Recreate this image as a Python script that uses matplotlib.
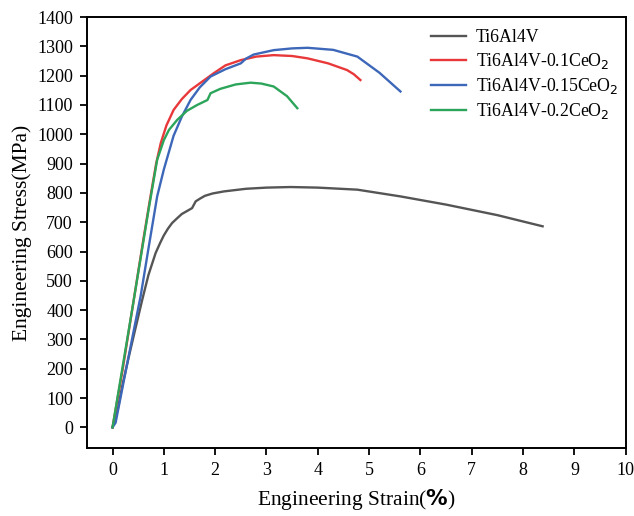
import matplotlib
matplotlib.use("Agg")
import matplotlib.pyplot as plt

plt.rcParams['font.family'] = ['Liberation Serif', 'DejaVu Serif']
plt.rcParams['mathtext.fontset'] = 'dejavusans'

# Data
strain_ti = [0, 0.1, 0.2, 0.32, 0.45, 0.58, 0.7, 0.84, 0.93, 1.0, 1.08, 1.16, 1.25, 1.35, 1.45, 1.55, 1.62, 1.7, 1.8, 1.95, 2.17, 2.6, 3.0, 3.47, 4.0, 4.77, 5.61, 6.5, 7.5, 8.38]
stress_ti = [0, 60, 150, 243, 340, 436, 520, 595, 630, 655, 678, 697, 712, 728, 738, 748, 771, 780, 790, 798, 805, 814, 818, 820, 818, 811, 788, 760, 724, 686]

strain_01 = [0, 0.2, 0.4, 0.6, 0.74, 0.85, 0.94, 1.05, 1.19, 1.35, 1.52, 1.75, 1.97, 2.2, 2.5, 2.8, 3.14, 3.5, 3.8, 4.2, 4.57, 4.7, 4.83]
stress_01 = [0, 200, 420, 640, 788, 900, 970, 1030, 1083, 1120, 1151, 1180, 1208, 1235, 1253, 1265, 1270, 1267, 1259, 1242, 1219, 1205, 1185]

strain_015 = [0, 0.06, 0.3, 0.55, 0.7, 0.87, 1.0, 1.19, 1.35, 1.52, 1.7, 1.91, 2.2, 2.5, 2.6, 2.75, 3.14, 3.5, 3.8, 4.3, 4.77, 5.2, 5.61]
stress_015 = [0, 16, 230, 450, 610, 788, 880, 995, 1060, 1117, 1160, 1197, 1222, 1242, 1258, 1272, 1287, 1293, 1295, 1288, 1265, 1210, 1146]

strain_02 = [0, 0.2, 0.4, 0.55, 0.7, 0.87, 1.0, 1.1, 1.26, 1.45, 1.65, 1.85, 1.91, 2.1, 2.4, 2.69, 2.9, 3.14, 3.4, 3.6]
stress_02 = [0, 210, 420, 580, 740, 913, 980, 1015, 1049, 1080, 1100, 1117, 1140, 1155, 1170, 1176, 1173, 1163, 1130, 1089]

labels = ['Ti6Al4V', 'Ti6Al4V-0.1CeO$_2$', 'Ti6Al4V-0.15CeO$_2$', 'Ti6Al4V-0.2CeO$_2$']
colors = ['#555555', '#e8383a', '#3d67b8', '#2ca55a']
x_ticks = list(range(0, 11))
y_ticks = list(range(0, 1401, 100))

fig = plt.figure(figsize=(6.34, 5.16), dpi=100)
ax = fig.add_axes([0.137, 0.132, 0.850, 0.835])

series = [(strain_ti, stress_ti), (strain_01, stress_01), (strain_015, stress_015), (strain_02, stress_02)]
for (xs, ys), lab, c in zip(series, labels, colors):
    ax.plot(xs, ys, color=c, lw=1.7, label=lab, solid_joinstyle='round')

ax.set_xlim(-0.5, 10)
ax.set_ylim(-70, 1400)
ax.set_xticks(x_ticks)
ax.set_yticks(y_ticks)
ax.tick_params(direction='out', length=5, width=1.3, labelsize=13, pad=5)
for s in ax.spines.values():
    s.set_linewidth(1.4)

ax.set_xlabel(r'Engineering Strain($\mathbf{\%}$)', fontsize=15.5, labelpad=6)
ax.set_ylabel('Engineering Stress(MPa)', fontsize=15.5, labelpad=4)

leg = ax.legend(loc='upper left', frameon=False, fontsize=12.8, handlelength=2.0,
                handletextpad=0.55, labelspacing=0.28, borderpad=0, borderaxespad=0,
                bbox_to_anchor=(0.638, 0.972))

fig.savefig('out.png', dpi=100)
